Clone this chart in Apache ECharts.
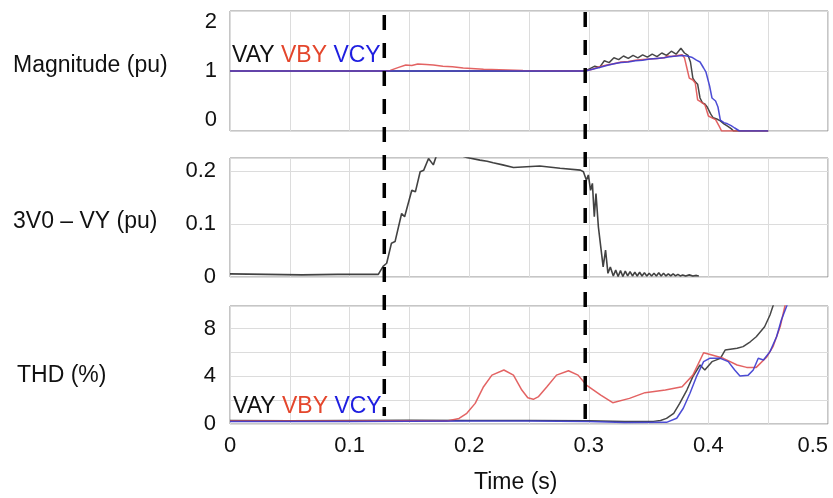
<!DOCTYPE html>
<html><head><meta charset="utf-8">
<script src="https://cdn.jsdelivr.net/npm/echarts@6/dist/echarts.min.js"></script>
<style>html,body{margin:0;padding:0;background:#fff}#c{width:833px;height:498px}</style>
</head><body><div id="c"></div>
<script>
// ---------- data ----------
const panelNames = ['Magnitude (pu)', '3V0 \u2013 VY (pu)', 'THD (%)'];
const seriesNames = ['VAY', 'VBY', 'VCY'];
const xAxisName = 'Time (s)';
const xTickLabels = [0, 0.1, 0.2, 0.3, 0.4, 0.5];
const magTicks = [0, 1, 2];
const v0Ticks = [0, 0.1, 0.2];
const thdTicks = [0, 4, 8];
const eventTimes = [0.129, 0.297];

// Magnitude (pu) [time s, value]
const magVAY = [[0,1.0],[0.297,1.0],[0.301,1.04],[0.305,1.08],[0.309,1.06],[0.313,1.17],[0.317,1.14],[0.321,1.22],[0.325,1.19],[0.329,1.25],[0.333,1.21],[0.337,1.26],[0.341,1.22],[0.345,1.27],[0.349,1.23],[0.353,1.28],[0.357,1.24],[0.361,1.30],[0.365,1.26],[0.369,1.33],[0.373,1.28],[0.377,1.38],[0.380,1.30],[0.383,1.26],[0.385,1.15],[0.387,0.88],[0.389,0.82],[0.391,0.78],[0.393,0.55],[0.395,0.47],[0.397,0.45],[0.399,0.40],[0.402,0.28],[0.404,0.22],[0.407,0.20],[0.410,0.17],[0.413,0.12],[0.416,0.08],[0.419,0.04],[0.421,0.0],[0.45,0.0]];
const magVBY = [[0,1.0],[0.130,1.0],[0.134,1.01],[0.141,1.06],[0.147,1.10],[0.152,1.09],[0.157,1.115],[0.164,1.11],[0.170,1.10],[0.178,1.08],[0.186,1.07],[0.195,1.05],[0.212,1.03],[0.245,1.01],[0.297,1.0],[0.303,1.03],[0.309,1.07],[0.315,1.10],[0.321,1.12],[0.327,1.15],[0.333,1.16],[0.339,1.18],[0.345,1.19],[0.351,1.20],[0.357,1.21],[0.363,1.22],[0.366,1.25],[0.369,1.24],[0.374,1.26],[0.378,1.27],[0.380,1.22],[0.382,1.05],[0.384,0.88],[0.387,0.85],[0.389,0.80],[0.391,0.52],[0.394,0.48],[0.397,0.44],[0.400,0.25],[0.403,0.22],[0.406,0.19],[0.409,0.08],[0.411,0.0],[0.45,0.0]];
const magVCY = [[0,1.0],[0.297,1.0],[0.303,1.03],[0.309,1.06],[0.315,1.09],[0.321,1.12],[0.327,1.14],[0.333,1.15],[0.339,1.17],[0.345,1.18],[0.351,1.20],[0.357,1.21],[0.363,1.22],[0.369,1.24],[0.374,1.25],[0.378,1.26],[0.382,1.25],[0.386,1.23],[0.390,1.18],[0.393,1.15],[0.396,1.05],[0.398,0.98],[0.401,0.75],[0.403,0.55],[0.406,0.50],[0.408,0.40],[0.410,0.18],[0.413,0.14],[0.416,0.12],[0.419,0.09],[0.422,0.05],[0.426,0.0],[0.45,0.0]];

// 3V0 - VY (pu)
const v0Data = [[0,0.006],[0.03,0.005],[0.06,0.004],[0.09,0.005],[0.124,0.005],[0.128,0.02],[0.131,0.026],[0.135,0.064],[0.138,0.067],[0.1435,0.12],[0.146,0.114],[0.152,0.164],[0.155,0.161],[0.159,0.199],[0.162,0.202],[0.166,0.224],[0.170,0.212],[0.173,0.232],[0.185,0.235],[0.198,0.226],[0.209,0.221],[0.215,0.219],[0.220,0.216],[0.228,0.212],[0.237,0.207],[0.248,0.2085],[0.259,0.21],[0.276,0.2055],[0.293,0.202],[0.2955,0.199],[0.298,0.183],[0.2996,0.193],[0.3015,0.164],[0.303,0.177],[0.3046,0.114],[0.306,0.158],[0.308,0.095],[0.310,0.057],[0.312,0.019],[0.314,0.051],[0.316,0.007],[0.318,0.019],[0.3205,0.002],[0.3225,0.013],[0.3245,0.001],[0.3265,0.012],[0.3285,0.001],[0.3305,0.011],[0.3325,0.002],[0.3345,0.010],[0.3365,0.002],[0.3385,0.009],[0.3405,0.002],[0.3425,0.009],[0.3445,0.002],[0.3465,0.008],[0.3485,0.002],[0.3505,0.007],[0.3525,0.002],[0.3545,0.007],[0.3565,0.002],[0.3585,0.008],[0.3605,0.002],[0.3625,0.007],[0.3645,0.002],[0.3665,0.006],[0.3685,0.002],[0.3705,0.006],[0.3725,0.002],[0.3745,0.005],[0.3765,0.002],[0.3785,0.004],[0.381,0.002],[0.384,0.004],[0.387,0.002],[0.390,0.003],[0.392,0.002]];

// THD (%)
const thdVAY = [[0,0.3],[0.05,0.28],[0.10,0.3],[0.15,0.32],[0.20,0.3],[0.25,0.3],[0.30,0.28],[0.33,0.2],[0.354,0.22],[0.360,0.3],[0.365,0.47],[0.371,0.9],[0.376,1.73],[0.382,2.85],[0.387,3.97],[0.393,4.95],[0.397,4.53],[0.403,5.23],[0.410,5.51],[0.414,6.2],[0.424,6.35],[0.429,6.49],[0.435,6.9],[0.440,7.32],[0.447,8.16],[0.4515,9.14],[0.454,9.9],[0.457,11]];
const thdVBY = [[0,0.25],[0.05,0.25],[0.10,0.25],[0.15,0.28],[0.1815,0.25],[0.1915,0.47],[0.198,0.9],[0.205,1.73],[0.212,3.13],[0.219,4.1],[0.229,4.53],[0.237,4.1],[0.244,2.85],[0.249,2.2],[0.2536,2.07],[0.258,2.3],[0.265,3.13],[0.273,4.1],[0.283,4.47],[0.291,4.1],[0.298,3.27],[0.310,2.43],[0.320,1.79],[0.334,2.15],[0.347,2.63],[0.364,2.85],[0.378,3.13],[0.387,4.1],[0.396,5.98],[0.403,5.79],[0.4125,5.51],[0.424,4.95],[0.432,4.75],[0.440,4.75],[0.449,5.65],[0.454,6.49],[0.460,8.16],[0.464,9.9],[0.467,11]];
const thdVCY = [[0,0.2],[0.05,0.2],[0.10,0.22],[0.15,0.24],[0.20,0.25],[0.25,0.25],[0.30,0.22],[0.33,0.12],[0.365,0.14],[0.3735,0.48],[0.379,1.32],[0.3846,2.58],[0.390,3.97],[0.396,5.23],[0.401,5.51],[0.410,5.51],[0.4166,5.23],[0.422,4.53],[0.4264,4.03],[0.4333,4.1],[0.4375,4.53],[0.4417,5.51],[0.446,5.37],[0.4515,6.07],[0.457,7.32],[0.461,8.72],[0.4655,9.9],[0.468,11]];

// ---------- chart ----------
const FONT = '"Liberation Sans", Arial, Helvetica, sans-serif';
const TXT = '#111';
const COLORS = ['#333333', '#e05252', '#3a3ad0'];
const LEG_COLORS = ['#111111', '#e4462c', '#1e1ee0'];
const GRIDLINE = '#dcdcdc';
const BORDER = '#8c8c8c';

const grids = [
  {left: 230, right: 5, top: 11, height: 120},
  {left: 230, right: 5, top: 158, height: 119},
  {left: 230, right: 5, top: 306, height: 118}
].map(g => Object.assign(g, {show: true, borderColor: BORDER, borderWidth: 1, backgroundColor: 'transparent'}));

function near(v, list) { return list.some(t => Math.abs(v - t) < 1e-6); }

const xAxes = [0, 1, 2].map(i => ({
  type: 'value', gridIndex: i, min: 0, max: 0.5, interval: 0.05,
  axisLine: {show: false}, axisTick: {show: false},
  splitLine: {show: true, lineStyle: {color: GRIDLINE, width: 1}},
  axisLabel: {
    show: i === 2, margin: 11, color: TXT, fontSize: 22, fontFamily: FONT,
    alignMaxLabel: 'right',
    formatter: v => near(v, xTickLabels) ? (v === 0 ? '0' : v.toFixed(1)) : ''
  }
}));

const yCommon = {
  type: 'value', axisLine: {show: false}, axisTick: {show: false},
  splitLine: {show: true, lineStyle: {color: GRIDLINE, width: 1}}
};
const yAxes = [
  Object.assign({}, yCommon, {gridIndex: 0, min: 0, max: 2, interval: 1,
    axisLabel: {margin: 13, color: TXT, fontSize: 22, fontFamily: FONT,
      verticalAlignMinLabel: 'bottom', verticalAlignMaxLabel: 'top',
      formatter: v => near(v, magTicks) ? String(v) : ''}}),
  Object.assign({}, yCommon, {gridIndex: 1, min: 0, max: 0.225, interval: 0.1,
    axisLabel: {margin: 14, color: TXT, fontSize: 22, fontFamily: FONT,
      formatter: v => near(v, v0Ticks) ? (v === 0 ? '0' : v.toFixed(1)) : ''}}),
  Object.assign({}, yCommon, {gridIndex: 2, min: 0, max: 9.9, interval: 2,
    axisLabel: {margin: 14, color: TXT, fontSize: 22, fontFamily: FONT,
      formatter: v => near(v, thdTicks) ? String(v) : ''}})
];

function line(name, data, gi, color, w) {
  return {
    name, type: 'line', data, xAxisIndex: gi, yAxisIndex: gi,
    showSymbol: false, symbol: 'none', clip: true, animation: false, silent: true,
    lineStyle: {color, width: w || 1.5, opacity: 0.9}, z: 3
  };
}

const series = [
  line(seriesNames[0], magVAY, 0, COLORS[0]),
  line(seriesNames[1], magVBY, 0, COLORS[1]),
  line(seriesNames[2], magVCY, 0, COLORS[2]),
  line('3V0', v0Data, 1, '#2e2e2e', 1.6),
  line(seriesNames[0], thdVAY, 2, COLORS[0]),
  line(seriesNames[1], thdVBY, 2, COLORS[1]),
  line(seriesNames[2], thdVCY, 2, COLORS[2])
];

const titleStyle = {fontSize: 23, fontWeight: 'normal', color: TXT, fontFamily: FONT, lineHeight: 24};
const legendRich = {
  a: {color: LEG_COLORS[0], fontSize: 23, fontFamily: FONT, lineHeight: 24},
  b: {color: LEG_COLORS[1], fontSize: 23, fontFamily: FONT, lineHeight: 24},
  c: {color: LEG_COLORS[2], fontSize: 23, fontFamily: FONT, lineHeight: 24}
};
const legendText = '{a|' + seriesNames[0] + '} {b|' + seriesNames[1] + '} {c|' + seriesNames[2] + '}';

const titles = [
  {text: panelNames[0], left: 13, top: 54},
  {text: panelNames[1], left: 13, top: 210},
  {text: panelNames[2], left: 17, top: 364},
  {text: legendText, left: 232, top: 44},
  {text: legendText, left: 233, top: 395},
  {text: xAxisName, left: 474, top: 471}
].map(t => Object.assign(t, {padding: 0, textStyle: Object.assign({}, titleStyle, {rich: legendRich})}));

const chart = echarts.init(document.getElementById('c'), null, {renderer: 'canvas'});
chart.setOption({
  animation: false,
  backgroundColor: '#ffffff',
  title: titles,
  grid: grids,
  xAxis: xAxes,
  yAxis: yAxes,
  series: series
});

// dashed event lines spanning all three panels
const yTop = chart.convertToPixel({yAxisIndex: 0}, 2);
const yBot = chart.convertToPixel({yAxisIndex: 2}, 0);
const graphics = eventTimes.map((t, i) => {
  const x = chart.convertToPixel({xAxisIndex: 0}, t);
  return {
    type: 'line', z: 100, silent: true,
    shape: {x1: x, y1: yTop + (i === 0 ? 4 : 1), x2: x, y2: yBot - (i === 0 ? 8 : 3)},
    style: {stroke: '#000', lineWidth: 3.5, lineDash: [15, 13]}
  };
});
chart.setOption({graphic: graphics});
</script>
</body></html>
